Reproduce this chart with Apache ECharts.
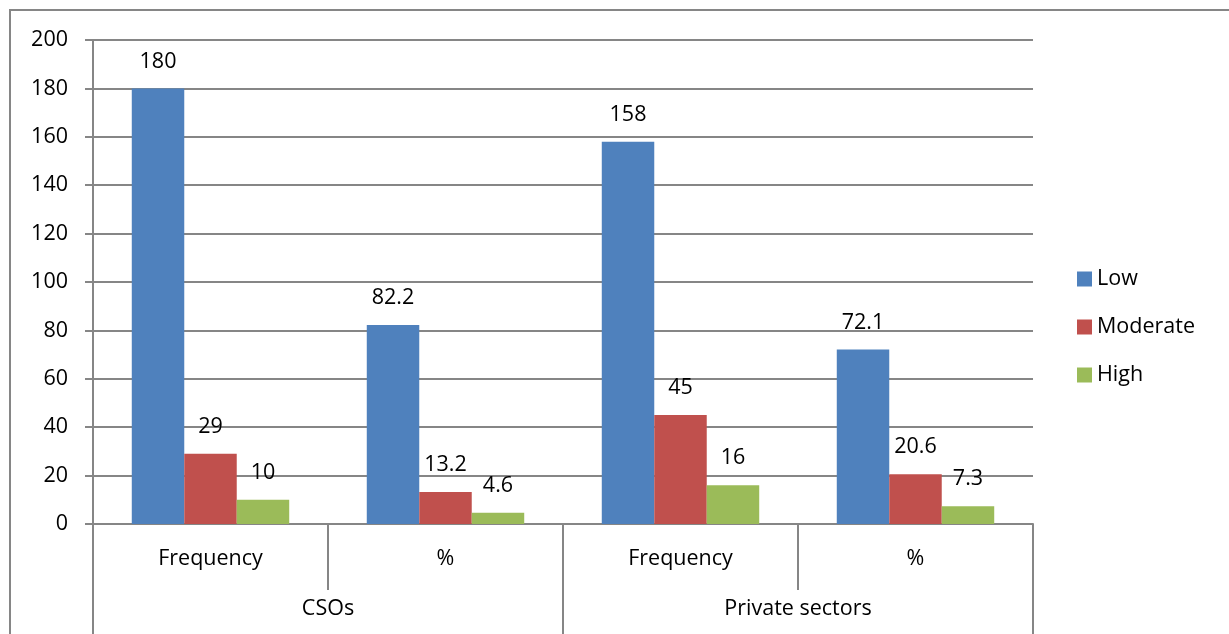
<!DOCTYPE html>
<html>
<head>
<meta charset="utf-8">
<script src="https://cdn.jsdelivr.net/npm/echarts@6/dist/echarts.min.js"></script>
<style>
html,body{margin:0;padding:0;background:#fff;}
#chart{width:1229px;height:634px;}
</style>
</head>
<body>
<div id="chart"></div>
<script>
// Categories: measure within each respondent group
const measures = ['Frequency', '%', 'Frequency', '%'];
const groups = ['CSOs', 'Private sectors'];
const yTicks = [0, 20, 40, 60, 80, 100, 120, 140, 160, 180, 200];

// Series values (Frequency and % for CSOs, then for Private sectors)
const lowValues = [180, 82.2, 158, 72.1];
const moderateValues = [29, 13.2, 45, 20.6];
const highValues = [10, 4.6, 16, 7.3];

const seriesNames = ['Low', 'Moderate', 'High'];
const seriesColors = ['#4F81BD', '#C0504D', '#9BBB59'];
const seriesData = [lowValues, moderateValues, highValues];

const FONT = 'Open Sans';
const FS = 21.5;
const AXIS_GREY = '#868686';

const chart = echarts.init(document.getElementById('chart'), null, { renderer: 'canvas' });

const option = {
  animation: false,
  backgroundColor: '#fff',
  textStyle: { fontFamily: FONT },
  grid: { left: 93, right: 196, top: 40, bottom: 110, containLabel: false },
  legend: {
    orient: 'vertical',
    left: 1077,
    top: 268,
    padding: 0,
    itemWidth: 15,
    itemHeight: 15,
    itemGap: 26,
    icon: 'rect',
    textStyle: { fontFamily: FONT, fontSize: FS, color: '#000', padding: [0, 0, 0, 0] },
    data: seriesNames
  },
  xAxis: [
    {
      type: 'category',
      data: measures,
      position: 'bottom',
      axisLine: { show: true, lineStyle: { color: AXIS_GREY, width: 2 } },
      axisTick: { show: true, alignWithLabel: false, length: 66, lineStyle: { color: AXIS_GREY, width: 2 } },
      axisLabel: { color: '#000', fontSize: FS, fontFamily: FONT, margin: 24 },
      splitLine: { show: false }
    },
    {
      type: 'category',
      data: groups,
      position: 'bottom',
      axisLine: { show: false },
      axisTick: { show: true, length: 112, lineStyle: { color: AXIS_GREY, width: 2 } },
      axisLabel: { color: '#000', fontSize: FS, fontFamily: FONT, margin: 74 },
      splitLine: { show: false }
    }
  ],
  yAxis: {
    type: 'value',
    min: 0,
    max: 200,
    interval: 20,
    axisLine: { show: true, lineStyle: { color: AXIS_GREY, width: 2 } },
    axisTick: { show: true, length: 8, lineStyle: { color: AXIS_GREY, width: 2 } },
    axisLabel: { color: '#000', fontSize: FS, fontFamily: FONT, margin: 25 },
    splitLine: { show: true, lineStyle: { color: AXIS_GREY, width: 2 } }
  },
  series: seriesNames.map((name, i) => ({
    name: name,
    type: 'bar',
    xAxisIndex: 0,
    data: seriesData[i],
    barGap: '0%',
    barCategoryGap: '33%',
    itemStyle: { color: seriesColors[i] },
    label: {
      show: true,
      position: 'top',
      distance: 16,
      color: '#000',
      fontSize: FS,
      fontFamily: FONT
    }
  })),
  graphic: [
    {
      type: 'rect',
      shape: { x: 10, y: 10, width: 1240, height: 660 },
      style: { fill: 'none', stroke: AXIS_GREY, lineWidth: 2 },
      silent: true
    }
  ]
};

chart.setOption(option);
</script>
</body>
</html>
